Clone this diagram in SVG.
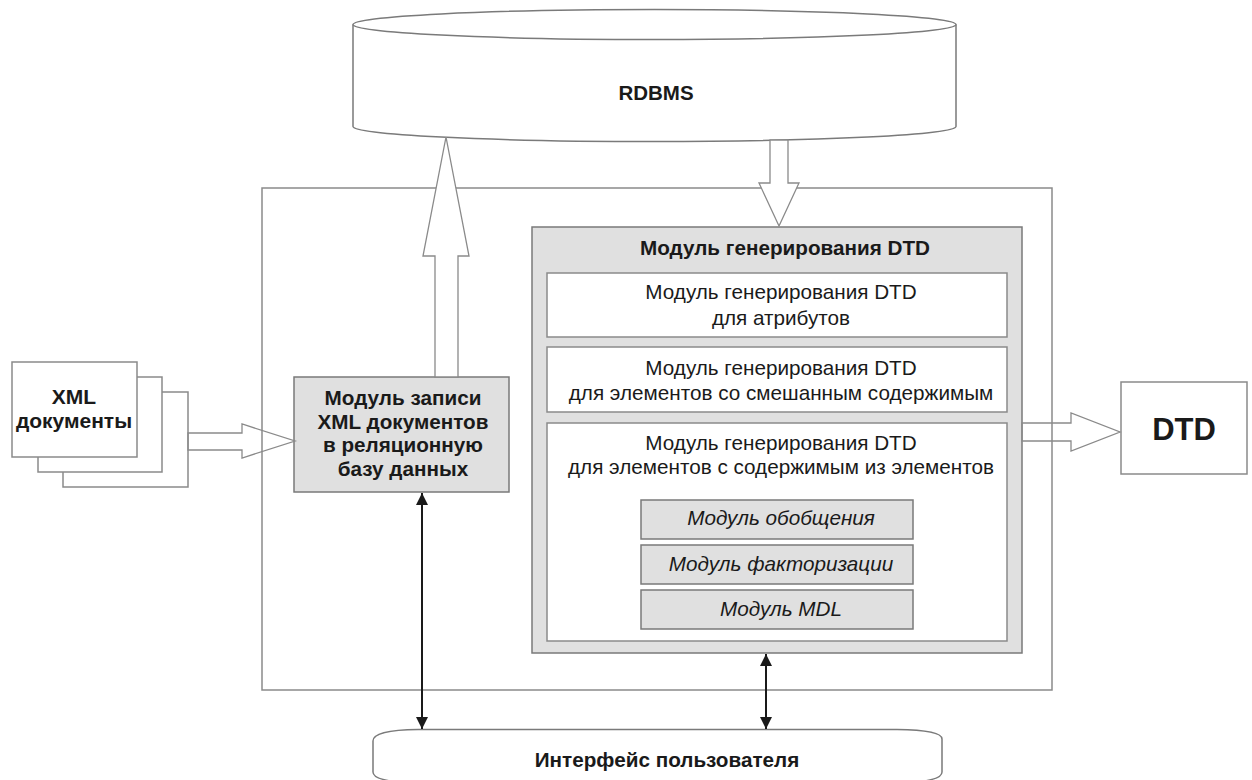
<svg xmlns="http://www.w3.org/2000/svg" width="1252" height="780" viewBox="0 0 1252 780">
<style>
text{font-family:"Liberation Sans",Arial,sans-serif;fill:#1a1a1a;text-anchor:middle}
.b{font-weight:bold}
.n{font-size:20.7px}
.i{font-style:italic}
.wbox{fill:#fff;stroke:#8a8a8a;stroke-width:1.5}
.gbox{fill:#e0e0e0;stroke:#7a7a7a;stroke-width:1.5}
.blk{fill:#fff;stroke:#8a8a8a;stroke-width:1.3}
.blkn{fill:none;stroke:#8a8a8a;stroke-width:1.3}
.bi{stroke:#1a1a1a;stroke-width:2;fill:none}
</style>
<defs>
<marker id="ah" viewBox="0 0 10 10" refX="10" refY="5" markerWidth="6" markerHeight="6" markerUnits="strokeWidth" orient="auto-start-reverse">
<path d="M0,0 L10,5 L0,10 Z" fill="#1a1a1a"/>
</marker>
</defs>

<g id="container">
<rect x="262" y="188" width="790" height="502" fill="#fff" stroke="#8a8a8a" stroke-width="1.5"/>
</g>

<g id="rdbms">
<path d="M353,24.5 L353,126.5 A301.5,15 0 0 0 956,126.5 L956,24.5" fill="#fff" stroke="#7a7a7a" stroke-width="1.5"/>
<ellipse cx="654.5" cy="24.5" rx="301.5" ry="15" fill="#fff" stroke="#7a7a7a" stroke-width="1.5"/>
<text class="b" style="font-size:20.5px" x="656" y="100">RDBMS</text>
</g>

<g id="xml-docs">
<rect class="wbox" x="63" y="392" width="125" height="95"/>
<rect class="wbox" x="38" y="377" width="124" height="95"/>
<rect class="wbox" x="12" y="362" width="125" height="95"/>
<text class="b" style="font-size:21px" x="74" y="404">XML</text>
<text class="b" style="font-size:21px" x="74" y="428">документы</text>
</g>

<g id="write-module">
<rect class="gbox" x="294" y="377" width="215" height="115"/>
<text class="b n" x="403" y="405">Модуль записи</text>
<text class="b n" x="403" y="428.5">XML документов</text>
<text class="b n" x="403" y="452">в реляционную</text>
<text class="b n" x="403" y="475.5">базу данных</text>
</g>

<g id="dtd-module">
<rect class="gbox" x="532" y="227" width="490" height="426"/>
<text class="b n" x="785" y="255">Модуль генерирования DTD</text>
</g>

<g id="attr-module">
<rect class="wbox" x="547" y="273" width="460" height="64"/>
<text class="n" x="781" y="299">Модуль генерирования DTD</text>
<text class="n" x="781" y="325">для атрибутов</text>
</g>

<g id="mixed-module">
<rect class="wbox" x="547" y="347" width="460" height="65"/>
<text class="n" x="781" y="375">Модуль генерирования DTD</text>
<text class="n" x="781" y="400">для элементов со смешанным содержимым</text>
</g>

<g id="elem-module">
<rect class="wbox" x="547" y="423" width="460" height="218"/>
<text class="n" x="781" y="450">Модуль генерирования DTD</text>
<text class="n" x="781" y="474">для элементов с содержимым из элементов</text>
</g>

<g id="generalize">
<rect class="gbox" x="641" y="500" width="272" height="39"/>
<text class="n i" x="781" y="525">Модуль обобщения</text>
</g>
<g id="factorize">
<rect class="gbox" x="641" y="545" width="272" height="39"/>
<text class="n i" x="781" y="571">Модуль факторизации</text>
</g>
<g id="mdl">
<rect class="gbox" x="641" y="590" width="272" height="39"/>
<text class="n i" x="781" y="616">Модуль MDL</text>
</g>

<g id="dtd">
<rect class="wbox" x="1121" y="382" width="126" height="92"/>
<text class="b" style="font-size:31px" x="1184" y="440">DTD</text>
</g>

<g id="ui">
<path d="M373,741 Q373,730 418,729.5 L897,729.5 Q942,730 942,739 L942,772 Q942,782 897,783 L418,783 Q373,782 373,772 Z" fill="#fff" stroke="#7a7a7a" stroke-width="1.5"/>
<text class="b n" x="667" y="767">Интерфейс пользователя</text>
</g>

<g id="connectors">
<polygon class="blk" points="446,137 469,256 458,256 458,377 435,377 435,256 423,256"/>
<polygon class="blk" points="770,140 788,140 788,183 799,183 779,226 759,183 770,183"/>
<polygon class="blkn" points="188,433 242,433 242,424 295,441 242,458 242,450 188,450"/>
<polygon class="blkn" points="1022,423 1071,423 1071,413 1120,432 1071,451 1071,441 1022,441"/>
<line class="bi" x1="422" y1="493" x2="422" y2="729" marker-start="url(#ah)" marker-end="url(#ah)"/>
<line class="bi" x1="766" y1="654" x2="766" y2="729" marker-start="url(#ah)" marker-end="url(#ah)"/>
</g>
</svg>
